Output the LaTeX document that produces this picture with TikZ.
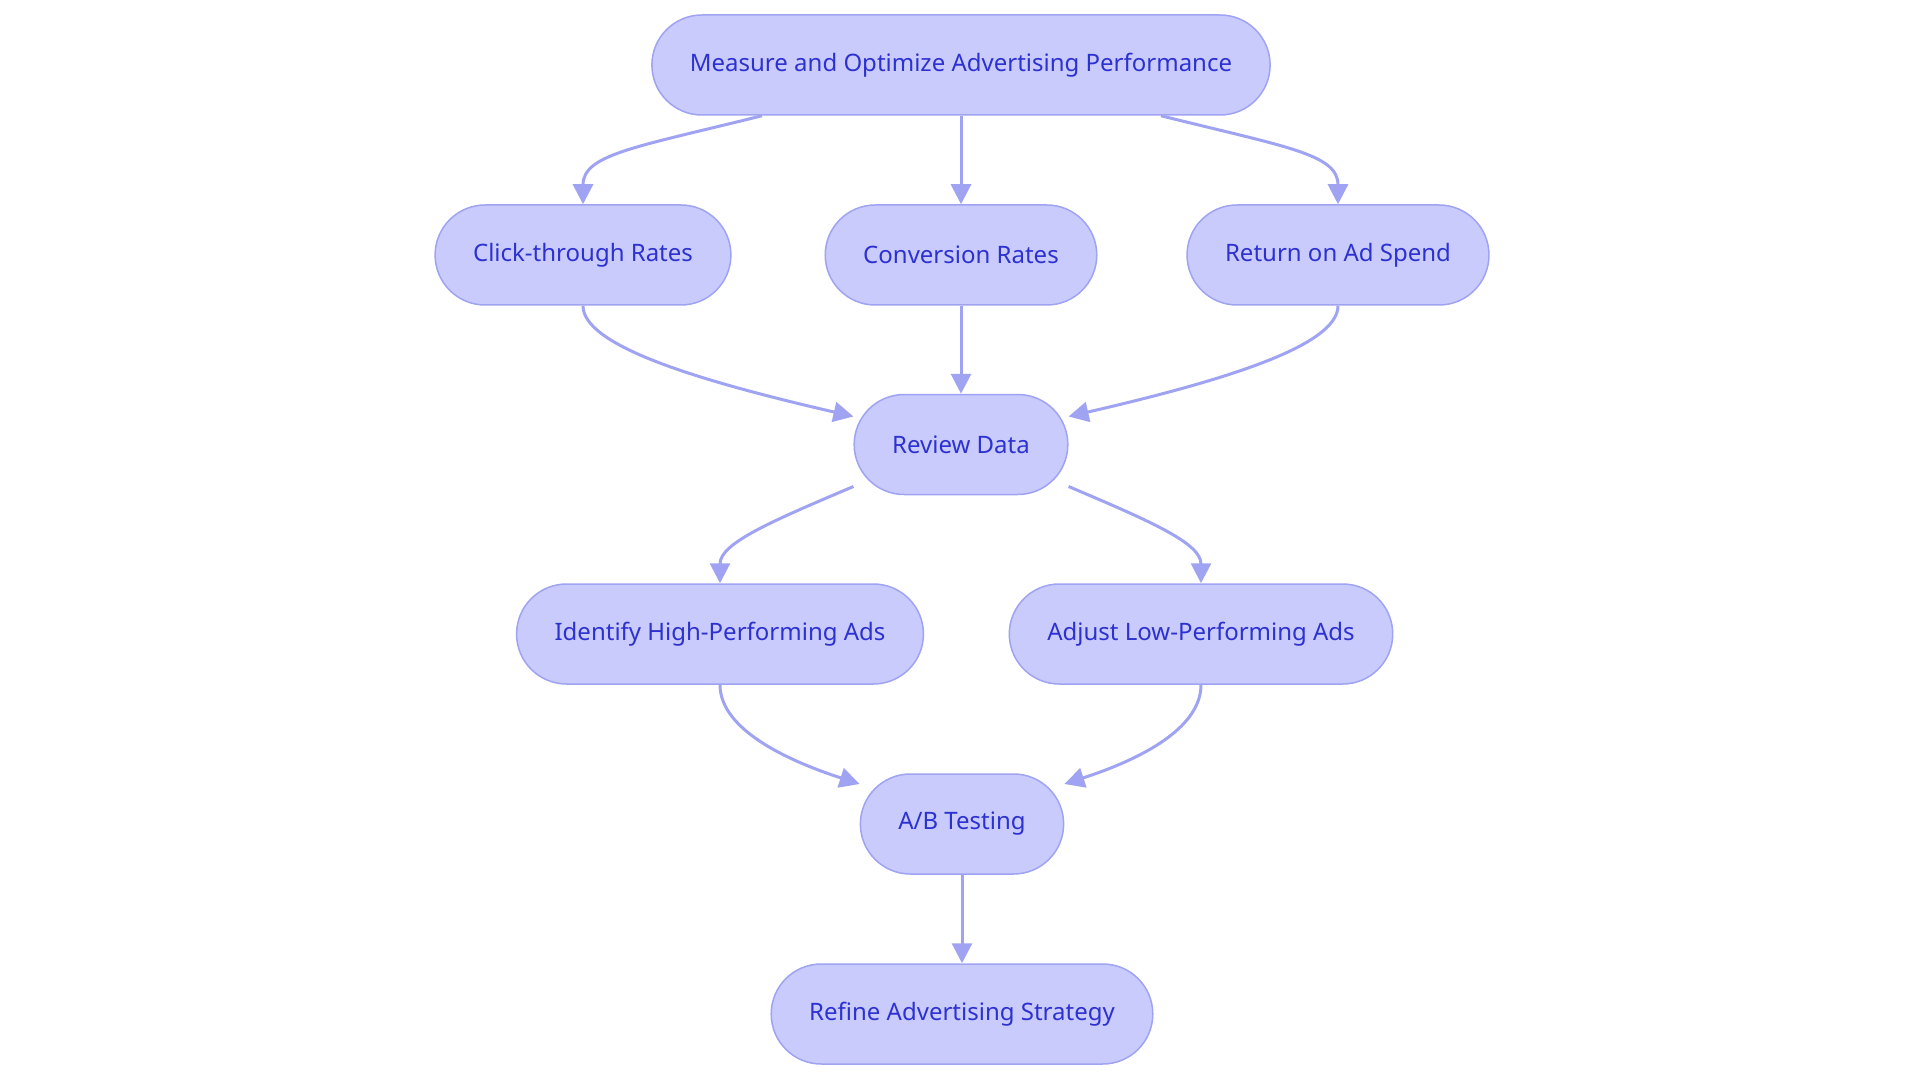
\documentclass[tikz,border=0pt]{standalone}
\usepackage{fontspec}
\setmainfont{Noto Sans}
\usetikzlibrary{arrows.meta}
\definecolor{boxfill}{HTML}{C9CBFD}
\definecolor{boxline}{HTML}{9FA3F2}
\definecolor{boxtext}{HTML}{2C31D0}
\definecolor{flowline}{HTML}{9FA3F2}

\begin{document}
\begin{tikzpicture}[x=1pt, y=1pt,
   node_style/.style={rectangle, rounded corners=50pt, draw=boxline, line width=1.5pt,
      fill=boxfill, text=boxtext, minimum height=100pt, inner xsep=38pt,
      font=\fontsize{24}{28}\selectfont},
   edge_style/.style={draw=flowline, line width=3pt, -{Triangle[length=20pt,width=20pt]}}]

    \useasboundingbox (0,0) rectangle (1920,-1083);

    \node[node_style] (measure)  at (961,-65)    {Measure and Optimize Advertising Performance};
    \node[node_style] (ctr)      at (583,-255)   {Click-through Rates};
    \node[node_style] (conv)     at (961,-255)   {Conversion Rates};
    \node[node_style] (roas)     at (1338,-255)  {Return on Ad Spend};
    \node[node_style] (review)   at (961,-444.5) {Review Data};
    \node[node_style] (identify) at (720,-634)   {Identify High-Performing Ads};
    \node[node_style] (adjust)   at (1201,-634)  {Adjust Low-Performing Ads};
    \node[node_style] (abtest)   at (962,-824)   {A/B Testing};
    \node[node_style] (refine)   at (962,-1014)  {Refine Advertising Strategy};

    \draw[edge_style] ([xshift=-199pt]measure.south) to[out=194, in=90, out distance=130pt, in distance=50pt] (ctr.north);
    \draw[edge_style] (measure) -- (conv);
    \draw[edge_style] ([xshift=200pt]measure.south) to[out=-14, in=90, out distance=130pt, in distance=50pt] (roas.north);

    \draw[edge_style] (ctr.south) to[out=-90, in=167, out distance=40pt, in distance=160pt] ([yshift=28pt]review.west);
    \draw[edge_style] (conv) -- (review);
    \draw[edge_style] (roas.south) to[out=-90, in=13, out distance=40pt, in distance=160pt] ([yshift=28pt]review.east);

    \draw[edge_style] ([yshift=-42pt]review.west) to[out=203, in=90, out distance=90pt, in distance=40pt] (identify.north);
    \draw[edge_style] ([yshift=-42pt]review.east) to[out=-23, in=90, out distance=90pt, in distance=40pt] (adjust.north);

    \draw[edge_style] (identify.south) to[out=-90, in=162, out distance=40pt, in distance=90pt] ([yshift=40pt]abtest.west);
    \draw[edge_style] (adjust.south) to[out=-90, in=18, out distance=40pt, in distance=90pt] ([yshift=40pt]abtest.east);

    \draw[edge_style] (abtest) -- (refine);
\end{tikzpicture}
\end{document}
